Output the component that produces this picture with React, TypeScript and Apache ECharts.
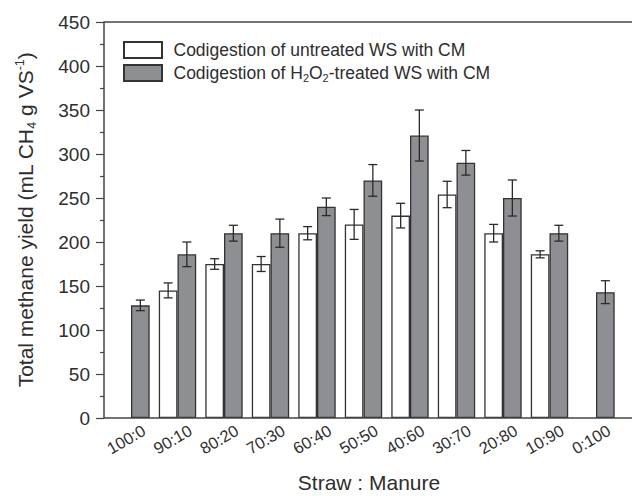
import React, { useEffect, useRef } from "react";
import * as echarts from "echarts";

const categories = ["100:0", "90:10", "80:20", "70:30", "60:40", "50:50", "40:60", "30:70", "20:80", "10:90", "0:100"];
const untreated = [null, 145, 175, 175, 210, 220, 230, 254, 210, 186, null];
const untreatedErr = [null, 8.5, 6, 8.5, 7.5, 17, 14, 15, 10, 4, null];
const treated = [128, 186, 210, 210, 240, 270, 321, 290, 250, 210, 143];
const treatedErr = [6, 14, 9, 16, 10, 18, 29, 14, 20.5, 9, 13];
const yTicks = { min: 0, max: 450, interval: 50 };
const seriesNames = ["Codigestion of untreated WS with CM", "Codigestion of H2O2-treated WS with CM"];

const FONT = "'Liberation Sans', Arial, Helvetica, sans-serif";
const TXT = "#2e2e2e";
const BAR_W = 18.7;

function errData(vals: (number | null)[], errs: (number | null)[]) {
  const out: number[][] = [];
  vals.forEach((v, i) => {
    if (v != null && errs[i] != null) out.push([i, v, errs[i] as number]);
  });
  return out;
}

function makeErr(shift: number) {
  return (params: any, api: any) => {
    const x = api.value(0);
    const v = api.value(1);
    const e = api.value(2);
    const top = api.coord([x, v + e]);
    const bot = api.coord([x, v - e]);
    const cx = top[0] + shift;
    const cap = 4.5;
    const st = { stroke: "#2a2a2a", lineWidth: 1.3 };
    return {
      type: "group",
      children: [
        { type: "line", shape: { x1: cx, y1: top[1], x2: cx, y2: bot[1] }, style: st },
        { type: "line", shape: { x1: cx - cap, y1: top[1], x2: cx + cap, y2: top[1] }, style: st },
        { type: "line", shape: { x1: cx - cap, y1: bot[1], x2: cx + cap, y2: bot[1] }, style: st },
      ],
    };
  };
}

export default function App() {
  const ref = useRef<HTMLDivElement>(null);
  useEffect(() => {
    if (!ref.current) return;
    const chart = echarts.init(ref.current, null, { renderer: "svg" });
    const gridLeft = 107.75;
    const gridW = 511.5;
    chart.setOption({
      animation: false,
      textStyle: { fontFamily: FONT },
      grid: [
        { left: gridLeft, top: 22, width: gridW, height: 396, outerBoundsMode: "none", containLabel: false },
        { left: gridLeft + 13, top: 22, width: gridW, height: 396, outerBoundsMode: "none", containLabel: false },
      ],
      legend: {
        orient: "vertical",
        left: 123,
        top: 41,
        padding: 0,
        itemWidth: 38,
        itemHeight: 16,
        itemGap: 5,
        icon: "rect",
        data: seriesNames,
        formatter: (name: string) =>
          name === seriesNames[1]
            ? "{a|Codigestion of H}{s|2}{a|O}{s|2}{a|-treated WS with CM}"
            : "{a|" + name + "}",
        textStyle: {
          color: TXT,
          fontSize: 17.5,
          fontFamily: FONT,
          padding: [0, 0, 0, 6.5],
          rich: {
            a: { fontSize: 17.5, fontFamily: FONT, color: TXT, lineHeight: 20 },
            s: { fontSize: 11, fontFamily: FONT, color: TXT, lineHeight: 11, verticalAlign: "bottom" },
          },
        },
      },
      xAxis: [
        {
          type: "category",
          gridIndex: 0,
          data: categories,
          axisLine: { show: false },
          axisTick: { show: false },
          axisLabel: { show: false },
          name: "Straw : Manure",
          nameLocation: "middle",
          nameGap: 54,
          nameTextStyle: { fontSize: 21, color: TXT, fontFamily: FONT, padding: [0, 0, 0, 11] },
        },
        {
          type: "category",
          gridIndex: 1,
          data: categories,
          axisLine: { show: false },
          axisTick: { show: false },
          axisLabel: { rotate: 30, margin: 11, fontSize: 16.5, color: TXT, fontFamily: FONT, interval: 0 },
        },
      ],
      yAxis: [
        {
          type: "value",
          gridIndex: 0,
          min: yTicks.min,
          max: yTicks.max,
          interval: yTicks.interval,
          offset: 3.75,
          axisLine: { show: true, lineStyle: { color: "#444", width: 1.5 } },
          axisTick: { show: true, inside: false, length: 8, lineStyle: { color: "#444", width: 1.2 } },
          minorTick: { show: true, splitNumber: 2, length: 4, lineStyle: { color: "#444", width: 1.2 } },
          splitLine: { show: false },
          axisLabel: { fontSize: 19, color: TXT, margin: 14, fontFamily: FONT },
          name: "{a|Total methane yield (mL CH}{s|4}{a| g VS}{p|-1}{a|)}",
          nameLocation: "middle",
          nameGap: 66,
          nameRotate: 90,
          nameTextStyle: {
            fontSize: 21,
            color: TXT,
            fontFamily: FONT,
            rich: {
              a: { fontSize: 21, fontFamily: FONT, color: TXT, lineHeight: 25 },
              s: { fontSize: 12.5, fontFamily: FONT, color: TXT, lineHeight: 12, verticalAlign: "bottom" },
              p: { fontSize: 12.5, fontFamily: FONT, color: TXT, lineHeight: 12, verticalAlign: "top" },
            },
          },
        },
        { type: "value", gridIndex: 1, show: false, min: 0, max: 450, interval: 50 },
      ],
      graphic: [
        { type: "line", shape: { x1: 104, y1: 418, x2: 640, y2: 418 }, style: { stroke: "#444", lineWidth: 1.5 }, z: 10 },
        { type: "line", shape: { x1: 104, y1: 22, x2: 640, y2: 22 }, style: { stroke: "#444", lineWidth: 1.5 }, z: 10 },
      ],
      series: [
        {
          name: seriesNames[0],
          type: "bar",
          xAxisIndex: 0,
          yAxisIndex: 0,
          data: untreated,
          barWidth: BAR_W,
          barGap: "0%",
          itemStyle: { color: "#ffffff", borderColor: "#333", borderWidth: 1.3 },
        },
        {
          name: seriesNames[1],
          type: "bar",
          xAxisIndex: 0,
          yAxisIndex: 0,
          data: treated,
          barWidth: BAR_W,
          barGap: "0%",
          itemStyle: { color: "#8e8f93", borderColor: "#333", borderWidth: 1.3 },
        },
        {
          type: "custom",
          xAxisIndex: 0,
          yAxisIndex: 0,
          data: errData(untreated, untreatedErr),
          renderItem: makeErr(-BAR_W / 2),
          encode: { x: 0, y: 1 },
          z: 5,
        },
        {
          type: "custom",
          xAxisIndex: 0,
          yAxisIndex: 0,
          data: errData(treated, treatedErr),
          renderItem: makeErr(BAR_W / 2),
          encode: { x: 0, y: 1 },
          z: 5,
        },
      ],
    });
    return () => chart.dispose();
  }, []);
  return <div ref={ref} style={{ width: 632, height: 496, position: "absolute", left: 0, top: 0 }} />;
}
